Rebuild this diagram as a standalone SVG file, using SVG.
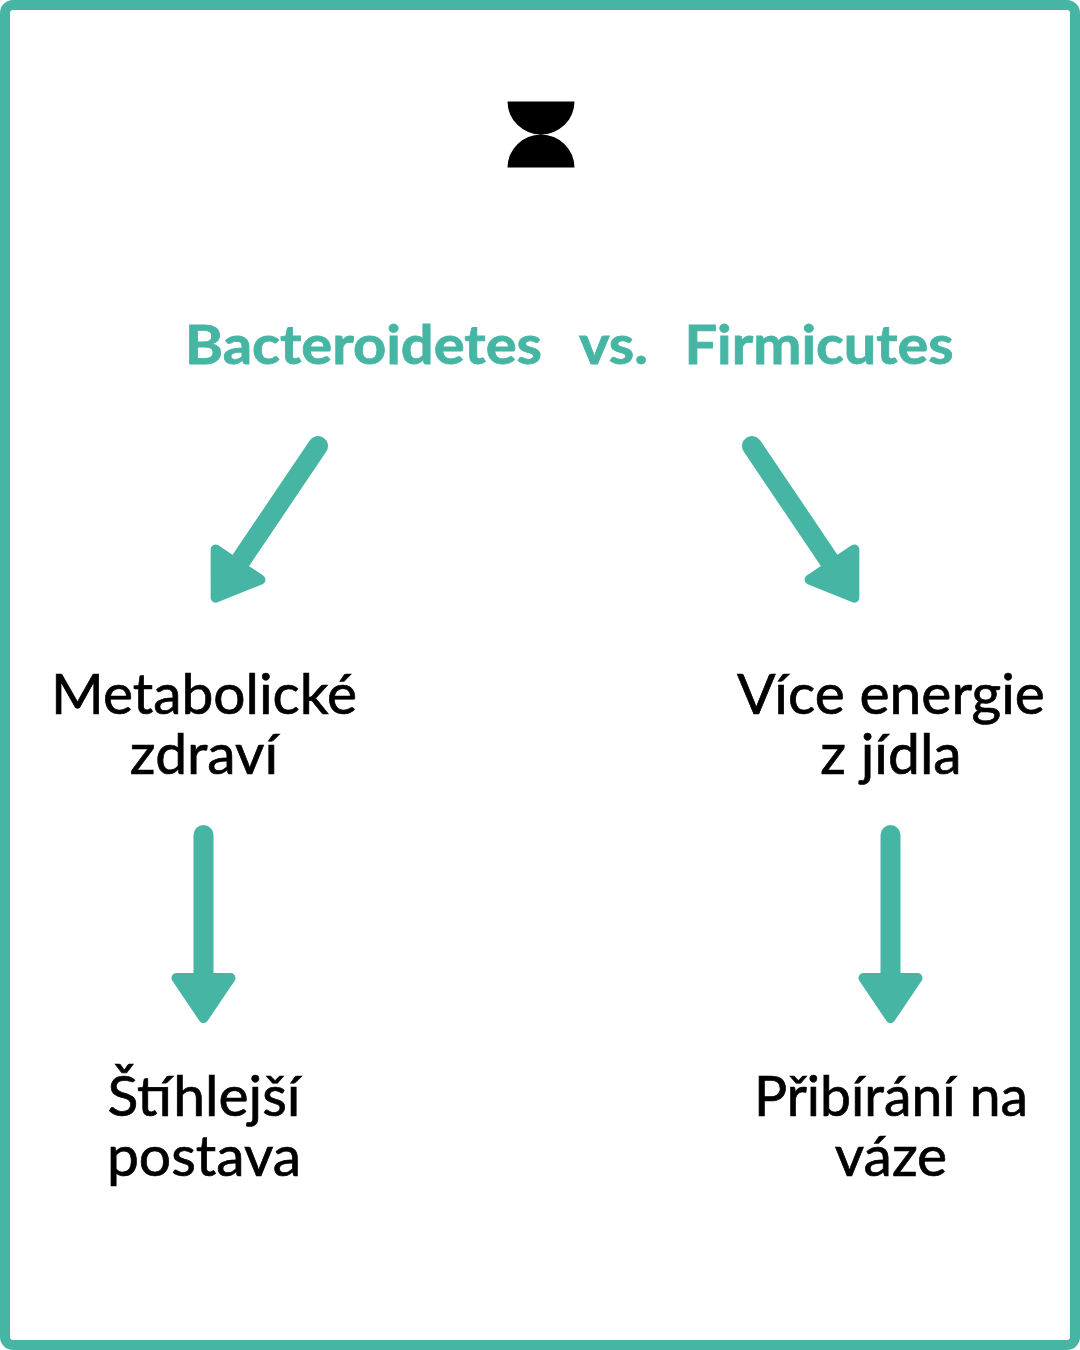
<svg xmlns="http://www.w3.org/2000/svg" width="1080" height="1350" viewBox="0 0 1080 1350">
<style>
text{font-family:"Lato","Liberation Sans",sans-serif}
.h{font-size:54px;font-weight:700;fill:#47b5a4;stroke:#47b5a4;stroke-width:.8}
.t{font-size:57px;font-weight:400;fill:#000;stroke:#000;stroke-width:.7;text-anchor:middle}
.a{fill:#47b5a4;stroke:#47b5a4;stroke-linejoin:round}
.s{fill:none;stroke:#47b5a4;stroke-width:20;stroke-linecap:round}
</style>
<defs>
<g id="arrow">
<path class="s" d="M0 0V150"/>
<path class="a" stroke-width="10" d="M-27 143H27L0 183Z"/>
</g>
</defs>
<rect width="1080" height="1350" fill="#fff"/>
<rect x="5" y="5" width="1070" height="1340" rx="8" fill="#fff" stroke="#47b5a4" stroke-width="10"/>
<g id="logo"><path d="M507.500 101.500H574.500A33.500 33.200 0 0 1 541 134.500A33.500 33.200 0 0 1 574.500 167.500H507.500A33.500 33.200 0 0 1 541 134.500A33.500 33.200 0 0 1 507.500 101.500Z" fill="#000"/></g>
<g id="title">
<text class="h" x="185" y="364" textLength="357" lengthAdjust="spacingAndGlyphs">Bacteroidetes</text>
<text class="h" x="579" y="364" textLength="69" lengthAdjust="spacingAndGlyphs">vs.</text>
<text class="h" x="684.500" y="364" textLength="269" lengthAdjust="spacingAndGlyphs">Firmicutes</text>
</g>
<g id="connectors">
<use href="#arrow" transform="translate(318 446) rotate(34)"/>
<use href="#arrow" transform="translate(752 446) rotate(-34)"/>
<use href="#arrow" transform="translate(203.500 835)"/>
<use href="#arrow" transform="translate(890.500 835)"/>
</g>
<g id="node-metabolicke"><text class="t" x="204" y="714" textLength="306" lengthAdjust="spacingAndGlyphs">Metabolické</text><text class="t" x="204" y="774">zdraví</text></g>
<g id="node-vice"><text class="t" x="891" y="714">Více energie</text><text class="t" x="891" y="774">z jídla</text></g>
<g id="node-stihlejsi"><text class="t" x="204" y="1116">Štíhlejší</text><text class="t" x="204" y="1176">postava</text></g>
<g id="node-pribirani"><text class="t" x="891" y="1116" textLength="274" lengthAdjust="spacingAndGlyphs">Přibírání na</text><text class="t" x="891" y="1176">váze</text></g>
</svg>
